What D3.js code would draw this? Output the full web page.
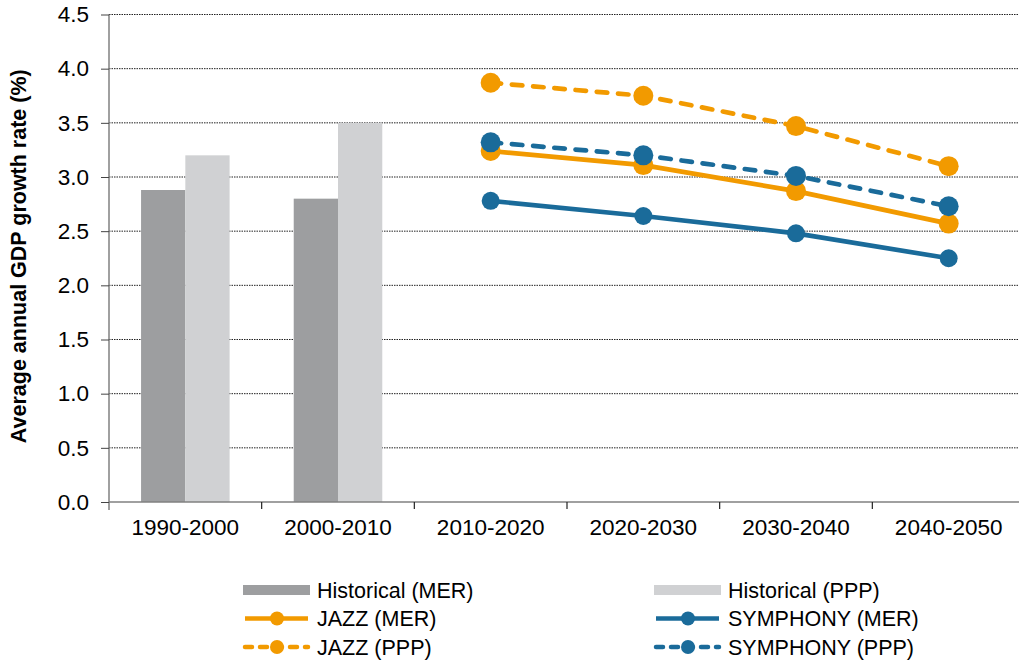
<!DOCTYPE html>
<html>
<head>
<meta charset="utf-8">
<script src="https://cdn.jsdelivr.net/npm/d3@7"></script>
<style>
  body { margin: 0; background: #fff; }
  text { font-family: "Liberation Sans", Arial, sans-serif; fill: #000; }
</style>
</head>
<body>
<svg id="chart" width="1019" height="665"></svg>
<script>
// data
var periods = ["1990-2000", "2000-2010", "2010-2020", "2020-2030", "2030-2040", "2040-2050"];
var histPeriods = ["1990-2000", "2000-2010"];
var histMER = [2.88, 2.80];
var histPPP = [3.20, 3.50];
var futurePeriods = ["2010-2020", "2020-2030", "2030-2040", "2040-2050"];
var jazzMER = [3.24, 3.11, 2.87, 2.57];
var jazzPPP = [3.87, 3.75, 3.47, 3.10];
var symphonyMER = [2.78, 2.64, 2.48, 2.25];
var symphonyPPP = [3.32, 3.20, 3.01, 2.73];
var yTicks = [0, 0.5, 1, 1.5, 2, 2.5, 3, 3.5, 4, 4.5];

var orange = "#f29a00",
    blue = "#1a6b9a",
    darkGrey = "#9d9ea0",
    lightGrey = "#d0d1d3";

var svg = d3.select("#chart"),
    margin = {top: 14.5, left: 109, bottom: 502, right: 1025};

var x = d3.scaleBand().domain(periods).range([margin.left, margin.right]),
    y = d3.scaleLinear().domain([0, 4.5]).range([margin.bottom, margin.top]);

var bw = x.bandwidth();
var xBar = d3.scaleBand().domain(["MER", "PPP"]).range([bw * 0.21, bw * 0.79]);

// gridlines
svg.append("g")
  .selectAll("line")
  .data(yTicks.filter(function(d) { return d > 0; }))
  .enter().append("line")
    .attr("x1", margin.left)
    .attr("x2", 1019)
    .attr("y1", function(d) { return y(d); })
    .attr("y2", function(d) { return y(d); })
    .attr("stroke", "#222")
    .attr("stroke-width", 1)
    .attr("stroke-dasharray", "1.5,1");

// historical bars
var histData = histPeriods.map(function(p, i) {
  return [{p: p, k: "MER", v: histMER[i]}, {p: p, k: "PPP", v: histPPP[i]}];
});
svg.append("g")
  .selectAll("rect")
  .data([].concat.apply([], histData))
  .enter().append("rect")
    .attr("x", function(d) { return x(d.p) + xBar(d.k); })
    .attr("y", function(d) { return y(d.v); })
    .attr("width", xBar.bandwidth())
    .attr("height", function(d) { return y(0) - y(d.v); })
    .attr("fill", function(d) { return d.k == "MER" ? darkGrey : lightGrey; });

// y axis
var yAxis = svg.append("g")
    .attr("transform", "translate(" + margin.left + ",0)")
    .call(d3.axisLeft(y).tickValues(yTicks).tickFormat(d3.format(".1f")).tickSize(8).tickPadding(12));
yAxis.select(".domain").attr("stroke", "#808080").attr("stroke-width", 1.5).attr("d", "M0," + margin.top + "V" + (margin.bottom + 8));
yAxis.selectAll(".tick line").attr("stroke", "#444");
yAxis.selectAll("text").style("font-size", "22.5px");

// x axis
var xAxis = svg.append("g")
    .attr("transform", "translate(0," + margin.bottom + ")")
    .call(d3.axisBottom(x).tickSize(0).tickPadding(17));
xAxis.select(".domain").attr("stroke", "#808080").attr("stroke-width", 1.5).attr("d", "M" + margin.left + ",0H1019");
xAxis.selectAll("text").style("font-size", "22.5px");
xAxis.selectAll(".bound")
  .data(periods.slice(1))
  .enter().append("line")
    .attr("x1", function(d) { return x(d); })
    .attr("x2", function(d) { return x(d); })
    .attr("y1", 0).attr("y2", 7)
    .attr("stroke", "#222").attr("stroke-width", 1.2);

// y title
svg.append("text")
    .attr("transform", "translate(26," + ((margin.top + margin.bottom) / 2 - 2) + ") rotate(-90)")
    .attr("text-anchor", "middle")
    .style("font-size", "21.5px")
    .style("font-weight", "bold")
    .text("Average annual GDP growth rate (%)");

// scenario lines
var series = [
  {name: "JAZZ (MER)", values: jazzMER, color: orange, dash: null, r: 10},
  {name: "JAZZ (PPP)", values: jazzPPP, color: orange, dash: "10.5,10.8", r: 10},
  {name: "SYMPHONY (MER)", values: symphonyMER, color: blue, dash: null, r: 9},
  {name: "SYMPHONY (PPP)", values: symphonyPPP, color: blue, dash: "10.5,10.8", r: 10}
];

var line = d3.line()
    .x(function(d, i) { return x(futurePeriods[i]) + bw / 2; })
    .y(function(d) { return y(d); });

series.forEach(function(s) {
  var g = svg.append("g");
  g.append("path")
      .attr("d", line(s.values))
      .attr("fill", "none")
      .attr("stroke", s.color)
      .attr("stroke-width", 4.7)
      .attr("stroke-linecap", s.dash ? "round" : "butt")
      .attr("stroke-dasharray", s.dash);
  g.selectAll("circle")
    .data(s.values)
    .enter().append("circle")
      .attr("cx", function(d, i) { return x(futurePeriods[i]) + bw / 2; })
      .attr("cy", function(d) { return y(d); })
      .attr("r", s.r)
      .attr("fill", s.color);
});

// legend
var legendItems = [
  {name: "Historical (MER)", type: "bar", color: darkGrey, col: 0, row: 0},
  {name: "Historical (PPP)", type: "bar", color: lightGrey, col: 1, row: 0},
  {name: "JAZZ (MER)", type: "line", color: orange, dash: null, col: 0, row: 1},
  {name: "SYMPHONY (MER)", type: "line", color: blue, dash: null, col: 1, row: 1},
  {name: "JAZZ (PPP)", type: "line", color: orange, dash: "7,8", col: 0, row: 2},
  {name: "SYMPHONY (PPP)", type: "line", color: blue, dash: "7,8", col: 1, row: 2}
];
var legend = svg.append("g");
var lg = legend.selectAll("g")
  .data(legendItems)
  .enter().append("g")
    .attr("transform", function(d) { return "translate(" + (243 + d.col * 411) + "," + (590 + d.row * 28.5) + ")"; });

lg.filter(function(d) { return d.type == "bar"; })
  .append("rect")
    .attr("x", 0).attr("y", -5).attr("width", 67).attr("height", 10)
    .attr("fill", function(d) { return d.color; });

var ll = lg.filter(function(d) { return d.type == "line"; });
ll.append("line")
    .attr("x1", 2).attr("x2", 65).attr("y1", 0).attr("y2", 0)
    .attr("stroke", function(d) { return d.color; })
    .attr("stroke-width", 4.5)
    .attr("stroke-linecap", function(d) { return d.dash ? "round" : "butt"; })
    .attr("stroke-dasharray", function(d) { return d.dash; });
ll.append("circle")
    .attr("cx", 34).attr("cy", 0).attr("r", 7)
    .attr("fill", function(d) { return d.color; });

lg.append("text")
    .attr("x", 74)
    .attr("dy", "0.36em")
    .style("font-size", "21.5px")
    .text(function(d) { return d.name; });
</script>
</body>
</html>
